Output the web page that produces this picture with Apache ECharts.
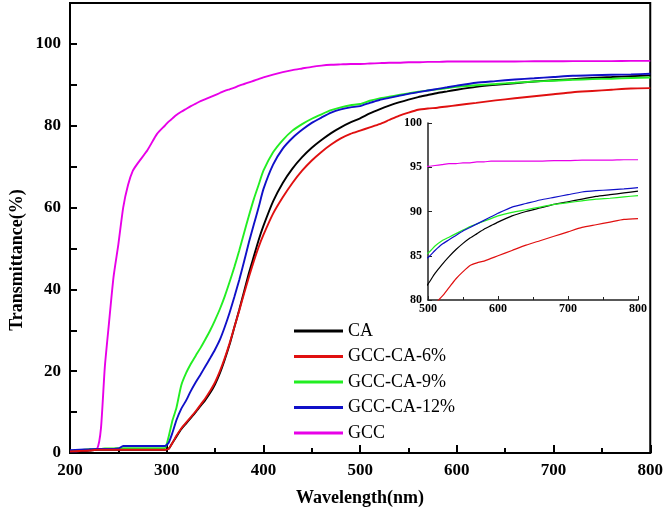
<!DOCTYPE html>
<html>
<head>
<meta charset="utf-8">
<script src="https://cdn.jsdelivr.net/npm/echarts@6/dist/echarts.min.js"></script>
<style>html,body{margin:0;padding:0;background:#fff;}#chart{width:666px;height:519px;}</style>
</head>
<body>
<div id="chart"></div>
<script>
const wavelength = [200,210,220,228,232,236,240,245,250,255,260,265,270,280,290,298,302,306,310,315,320,325,330,335,340,345,350,355,360,365,370,375,380,385,390,395,400,410,420,430,440,450,460,470,480,490,500,510,520,530,540,550,560,570,580,590,600,620,640,660,680,700,720,740,760,780,800];

const caValues = [0.4,0.5,0.6,0.8,0.8,0.8,0.8,0.8,0.8,0.8, 0.8,0.8,0.8,0.8,0.8,0.8,1.0,2.5,4,5.8, 7.2,8.6,10,11.5,13,14.7,16.8,19.5,22.8,26.5, 30.8,35,39.5,44,48,52,55.5,61.5,66,69.5, 72.3,74.6,76.5,78.2,79.6,80.8,81.8,83,84,84.9, 85.7,86.4,87.0,87.5,88.0,88.4,88.8,89.5,90.0,90.4, 90.8,91.1,91.4,91.7,91.9,92.1,92.3];
const ca6Values = [0.4,0.5,0.6,0.8,0.8,0.8,0.8,0.8,0.8,0.8, 0.8,0.8,0.8,0.8,0.8,0.8,1.0,2.5,4.2,6, 7.4,8.8,10.2,11.8,13.4,15.2,17.3,20,23.2,26.8, 30.8,34.8,39,43,46.8,50.3,53.3,58.5,62.5,66, 69,71.5,73.6,75.4,76.9,78,78.8,79.6,80.4,81.4, 82.4,83.2,83.9,84.2,84.4,84.7,85.0,85.6,86.2,86.7, 87.2,87.7,88.2,88.5,88.8,89.1,89.2];
const ca9Values = [0.5,0.7,0.9,1.0,1.0,1.1,1.1,1.1,1.2,1.2, 1.2,1.2,1.2,1.2,1.2,1.2,4,8,11,16.5, 19.5,21.8,23.8,25.7,27.8,30,32.5,35.2,38.3,41.8, 45.5,49.5,53.8,58,62,65.5,69,73.5,76.5,78.8, 80.4,81.7,82.8,83.8,84.5,85,85.3,86.1,86.7,87.1, 87.5,87.9,88.3,88.6,88.9,89.2,89.5,89.9,90.2,90.5, 90.8,91.0,91.2,91.4,91.5,91.65,91.8];
const ca12Values = [0.7,0.8,0.9,1.0,1.0,1.0,1.0,1.0,1.1,1.7, 1.7,1.7,1.7,1.7,1.7,1.7,2.5,5,8,10.8, 12.8,15.2,17.3,19.2,21.2,23.2,25.3,27.7,30.8,34.3, 38.2,42.3,46.8,51.5,55.8,60,64.5,70.5,74.4,77, 79,80.7,82,83.2,84,84.5,84.8,85.6,86.3,86.8, 87.3,87.8,88.2,88.6,89.0,89.4,89.8,90.5,90.9,91.3, 91.6,91.9,92.2,92.35,92.45,92.55,92.7];
const gccValues = [0.4,0.5,0.7,1.0,6,21,31,43,51,60, 65.5,69,70.8,74,78,80,81,81.8,82.6,83.4, 84.1,84.8,85.4,86,86.5,87,87.5,88,88.5,88.9, 89.3,89.8,90.2,90.6,91,91.4,91.8,92.5,93.1,93.6, 94,94.4,94.7,94.9,95,95.1,95.1,95.2,95.3,95.4, 95.4,95.5,95.5,95.6,95.6,95.7,95.7,95.7,95.7,95.7, 95.75,95.75,95.8,95.8,95.8,95.85,95.85];

const seriesNames = ['CA','GCC-CA-6%','GCC-CA-9%','GCC-CA-12%','GCC'];
const seriesColors = ['#000000','#e01010','#22ee22','#1010c8','#e800e8'];
const seriesValues = [caValues, ca6Values, ca9Values, ca12Values, gccValues];
const drawOrder = [4,0,2,3,1];

const mainXTicks = {min:200, max:800, step:100};
const mainYTicks = {min:0, max:110, step:10, labelStep:20, labelMax:100};
const insetXTicks = {min:500, max:800, step:100};
const insetYTicks = {min:80, max:100, step:5};

const FONT = "'Liberation Serif','Times New Roman',serif";

function pairs(vals){ return wavelength.map((w,i)=>[w, vals[i]]); }

const series = [];
drawOrder.forEach(k=>{
  series.push({name:seriesNames[k], type:'line', xAxisIndex:0, yAxisIndex:0, data:pairs(seriesValues[k]),
    showSymbol:false, symbol:'none', smooth:0.2, lineStyle:{color:seriesColors[k], width:1.9}, itemStyle:{color:seriesColors[k]}, z:3});
});
drawOrder.forEach(k=>{
  series.push({name:seriesNames[k], type:'line', xAxisIndex:1, yAxisIndex:1, data:pairs(seriesValues[k]),
    showSymbol:false, symbol:'none', smooth:0.2, clip:true, lineStyle:{color:seriesColors[k], width:1.2}, itemStyle:{color:seriesColors[k]}, z:3});
});

const chart = echarts.init(document.getElementById('chart'), null, {renderer:'canvas'});
chart.setOption({
  animation:false,
  backgroundColor:'#fff',
  grid:[
    {left:70, right:14, top:3, bottom:66, show:true, borderColor:'#000', borderWidth:2, backgroundColor:'transparent'},
    {left:428, right:28, top:123, bottom:219}
  ],
  legend:{
    orient:'vertical', left:289, top:317, itemWidth:49, itemHeight:3, itemGap:7.5, icon:'rect',
    data:seriesNames,
    textStyle:{fontFamily:FONT, fontSize:18, color:'#000', lineHeight:18}
  },
  xAxis:[
    {gridIndex:0, type:'value', min:mainXTicks.min, max:mainXTicks.max, interval:mainXTicks.step,
      axisLine:{show:true, onZero:false, lineStyle:{color:'#000', width:2}},
      axisTick:{inside:true, length:8, lineStyle:{color:'#000', width:2}},
      minorTick:{show:true, splitNumber:2, length:5, lineStyle:{color:'#000', width:2}},
      splitLine:{show:false},
      axisLabel:{color:'#000', fontFamily:FONT, fontWeight:'bold', fontSize:17, margin:9}},
    {gridIndex:1, type:'value', min:insetXTicks.min, max:insetXTicks.max, interval:insetXTicks.step,
      axisLine:{show:true, onZero:false, lineStyle:{color:'#222', width:1.5}},
      axisTick:{inside:true, length:4, lineStyle:{color:'#222', width:1}},
      minorTick:{show:true, splitNumber:2, length:3, lineStyle:{color:'#222', width:1}},
      splitLine:{show:false},
      axisLabel:{color:'#000', fontFamily:FONT, fontWeight:'bold', fontSize:12, margin:3}}
  ],
  yAxis:[
    {gridIndex:0, type:'value', min:mainYTicks.min, max:mainYTicks.max, interval:mainYTicks.step,
      axisLine:{show:true, onZero:false, lineStyle:{color:'#000', width:2}},
      axisTick:{inside:true, length:7, lineStyle:{color:'#000', width:2}},
      splitLine:{show:false},
      axisLabel:{color:'#000', fontFamily:FONT, fontWeight:'bold', fontSize:17, margin:9,
        formatter:v=> (v % mainYTicks.labelStep === 0 && v <= mainYTicks.labelMax) ? String(v) : ''}},
    {gridIndex:1, type:'value', min:insetYTicks.min, max:insetYTicks.max, interval:insetYTicks.step,
      axisLine:{show:true, onZero:false, lineStyle:{color:'#222', width:1.5}},
      axisTick:{inside:true, length:4, lineStyle:{color:'#222', width:1}},
      splitLine:{show:false},
      axisLabel:{color:'#000', fontFamily:FONT, fontWeight:'bold', fontSize:12, margin:6}}
  ],
  graphic:[
    {type:'text', x:360, y:498, style:{text:'Wavelength(nm)', align:'center', verticalAlign:'middle', font:"bold 18px 'Liberation Serif'", fill:'#000'}},
    {type:'text', x:17, y:260, rotation:Math.PI/2, style:{text:'Transmittance(%)', align:'center', verticalAlign:'middle', font:"bold 18px 'Liberation Serif'", fill:'#000'}}
  ],
  series:series
});
</script>
</body>
</html>
